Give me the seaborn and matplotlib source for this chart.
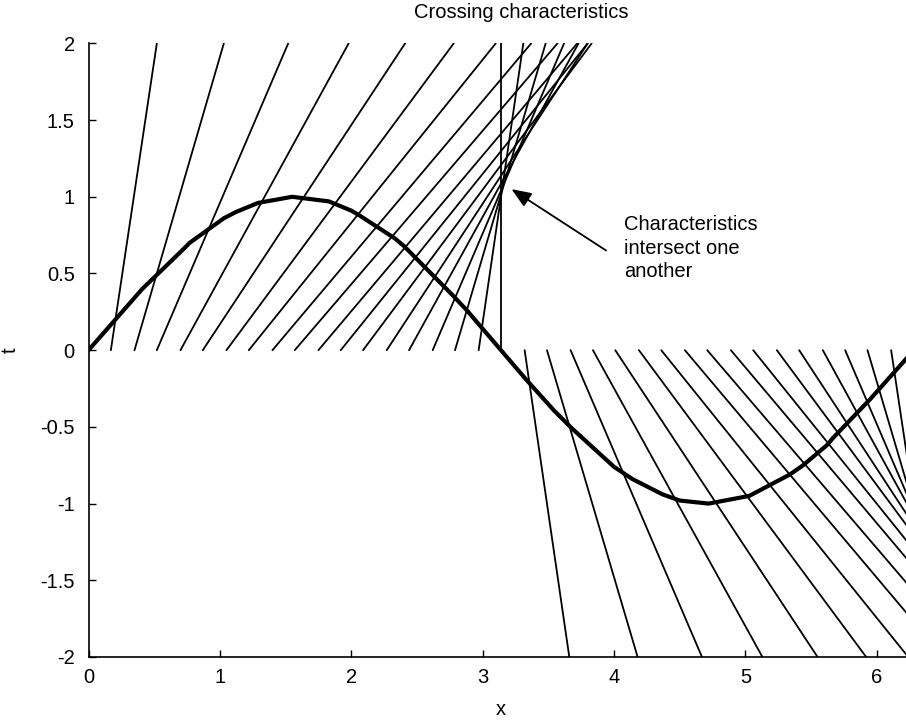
import numpy as np
import pandas as pd
import matplotlib
matplotlib.use('Agg')
import matplotlib.pyplot as plt
import seaborn as sns

# characteristics going forward in time (start at t=0, end at t=2)
up_start = [0.17, 0.35, 0.52, 0.70, 0.87, 1.05, 1.22, 1.40, 1.57, 1.75, 1.92,
            2.09, 2.27, 2.44, 2.62, 2.79, 2.97, 3.14]
up_end = [0.52, 1.03, 1.52, 1.98, 2.41, 2.78, 3.10, 3.37, 3.57, 3.72, 3.80,
          3.83, 3.80, 3.73, 3.62, 3.48, 3.31, 3.14]

# characteristics going backward (start at t=0, end at t=-2)
down_start = [3.32, 3.49, 3.67, 3.84, 4.01, 4.19, 4.36, 4.54, 4.71, 4.89, 5.06,
              5.24, 5.41, 5.59, 5.76, 5.93, 6.11]
down_end = [3.66, 4.18, 4.67, 5.13, 5.55, 5.92, 6.24, 6.51, 6.71, 6.86, 6.94,
            6.97, 6.94, 6.87, 6.76, 6.62, 6.46]

# initial profile u0(x)
curve_x = [0, 0.41, 0.70, 0.77, 1.03, 1.12, 1.29, 1.55, 1.83, 2.00, 2.06, 2.33,
           2.40, 2.77, 2.88, 3.13, 3.33, 3.54, 3.68, 4.00, 4.14, 4.37, 4.50,
           4.72, 5.03, 5.34, 5.44, 5.62, 5.67, 5.95, 6.20, 6.28]
curve_t = [0, 0.40, 0.64, 0.70, 0.86, 0.90, 0.96, 1.00, 0.97, 0.91, 0.88, 0.73,
           0.68, 0.36, 0.26, 0.01, -0.19, -0.39, -0.51, -0.76, -0.84, -0.94,
           -0.98, -1.00, -0.95, -0.81, -0.75, -0.62, -0.57, -0.32, -0.08, 0.0]

sns.set_theme(style='ticks')
plt.rcParams['font.family'] = ['Liberation Sans', 'DejaVu Sans']
plt.rcParams['xtick.direction'] = 'in'
plt.rcParams['ytick.direction'] = 'in'
FS = 14.5

# long table of line segments
rows = []
for i, (s, e) in enumerate(zip(up_start, up_end)):
    rows.append({'line': i, 'x': s, 't': 0.0})
    rows.append({'line': i, 'x': e, 't': 2.0})
n = len(up_start)
for i, (s, e) in enumerate(zip(down_start, down_end)):
    rows.append({'line': n + i, 'x': s, 't': 0.0})
    rows.append({'line': n + i, 'x': e, 't': -2.0})
chars = pd.DataFrame(rows)

fig = plt.figure(figsize=(9.06, 7.21), dpi=100)
ax = fig.add_axes([0.0977, 0.0888, 0.911, 0.851])

sns.lineplot(data=chars, x='x', y='t', units='line', estimator=None,
             color='black', lw=1.3, sort=False, ax=ax)
sns.lineplot(x=curve_x, y=curve_t, color='black', lw=3, sort=False, ax=ax)

ax.set_xlim(0, 2 * np.pi)
ax.set_ylim(-2, 2)
ax.set_xticks(range(0, 7))
ax.set_xticklabels([str(v) for v in range(0, 7)])
yt = [-2, -1.5, -1, -0.5, 0, 0.5, 1, 1.5, 2]
ax.set_yticks(yt)
ax.set_yticklabels(['-2', '-1.5', '-1', '-0.5', '0', '0.5', '1', '1.5', '2'])
ax.tick_params(axis='both', labelsize=FS, length=5, width=1, color='black',
               labelcolor='black')
ax.tick_params(axis='y', pad=10)
ax.tick_params(axis='x', pad=8)
sns.despine(ax=ax)
for sp in ['left', 'bottom']:
    ax.spines[sp].set_color('black')
    ax.spines[sp].set_linewidth(1.2)

ax.set_xlabel('x', fontsize=FS, color='black', labelpad=9)
ax.set_ylabel('t', fontsize=FS, color='black', labelpad=15, rotation=90)
fig.text(521 / 906, 1 - 12 / 721, 'Crossing characteristics', fontsize=FS,
         color='black', ha='center', va='center')

ax.annotate('', xy=(3.22, 1.05), xytext=(3.94, 0.65),
            arrowprops=dict(arrowstyle='-|>,head_length=1.0,head_width=0.4',
                            color='black', lw=1.3, shrinkA=0, shrinkB=0))
ax.text(4.08, 0.88, 'Characteristics\nintersect one\nanother', fontsize=FS,
        color='black', va='top', ha='left', linespacing=1.3)

fig.savefig('out.png', dpi=100, facecolor='white')
